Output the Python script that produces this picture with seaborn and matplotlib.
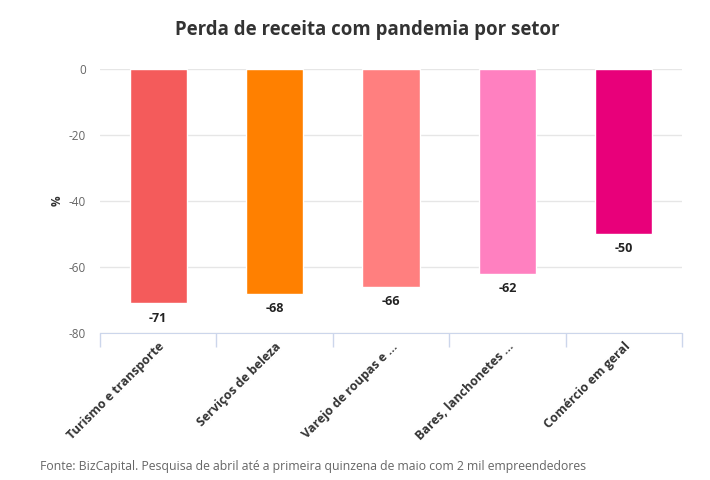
import pandas as pd
import matplotlib.pyplot as plt
import seaborn as sns

# Data
setores = ['Turismo e transporte', 'Serviços de beleza', 'Varejo de roupas e ...',
           'Bares, lanchonetes ...', 'Comércio em geral']
perda = [-71, -68, -66, -62, -50]
cores = ['#F45B5B', '#FF8000', '#FF7F7F', '#FF80C0', '#E8007A']

df = pd.DataFrame({'Setor': setores, 'Perda': perda})

sns.set_style('white')
plt.rcParams['font.family'] = ['Open Sans', 'DejaVu Sans']
plt.rcParams['axes.unicode_minus'] = False

fig = plt.figure(figsize=(7.1, 4.8), dpi=100)
ax = fig.add_axes([0.1408, 0.306, 0.8198, 0.550])

sns.barplot(data=df, x='Setor', y='Perda', hue='Setor', palette=cores,
            legend=False, width=0.49, saturation=1, ax=ax)

ax.set_ylim(-80, 0)
ax.set_xlim(-0.5, len(setores) - 0.5)
ax.set_yticks([0, -20, -40, -60, -80])
ax.yaxis.grid(True, color='#E6E6E6', linewidth=1)
ax.set_axisbelow(True)
for s in ['top', 'right', 'left']:
    ax.spines[s].set_visible(False)
ax.spines['bottom'].set_color('#CCD6EB')

ax.tick_params(axis='y', length=0, labelsize=8.5, labelcolor='#666666', pad=10)
ax.set_xticks([i - 0.5 for i in range(len(setores) + 1)], minor=True)
ax.tick_params(axis='x', which='minor', bottom=True, length=10, color='#CCD6EB', width=1)
ax.tick_params(axis='x', which='major', bottom=False, length=0, pad=5)
ax.set_xticks(range(len(setores)))
ax.set_xticklabels(setores, rotation=45, ha='right', rotation_mode='anchor',
                   fontsize=9, fontweight='bold', color='#333333')

ax.set_xlabel('')
ax.set_ylabel('%', fontsize=8.5, fontweight='bold', color='#333333', labelpad=4)

for i, v in enumerate(perda):
    ax.annotate(f'{v}', (i, v), xytext=(0, -6), textcoords='offset points',
                ha='center', va='top', fontsize=9, fontweight='bold', color='#222222')

fig.text(0.517, 0.938, 'Perda de receita com pandemia por setor', ha='center', va='center',
         fontsize=13.4, fontweight='bold', color='#333333')
fig.text(0.056, 0.029, 'Fonte: BizCapital. Pesquisa de abril até a primeira quinzena de maio com 2 mil empreendedores',
         ha='left', va='center', fontsize=8.8, color='#666666')

fig.savefig('out.png', dpi=100, facecolor='white')
